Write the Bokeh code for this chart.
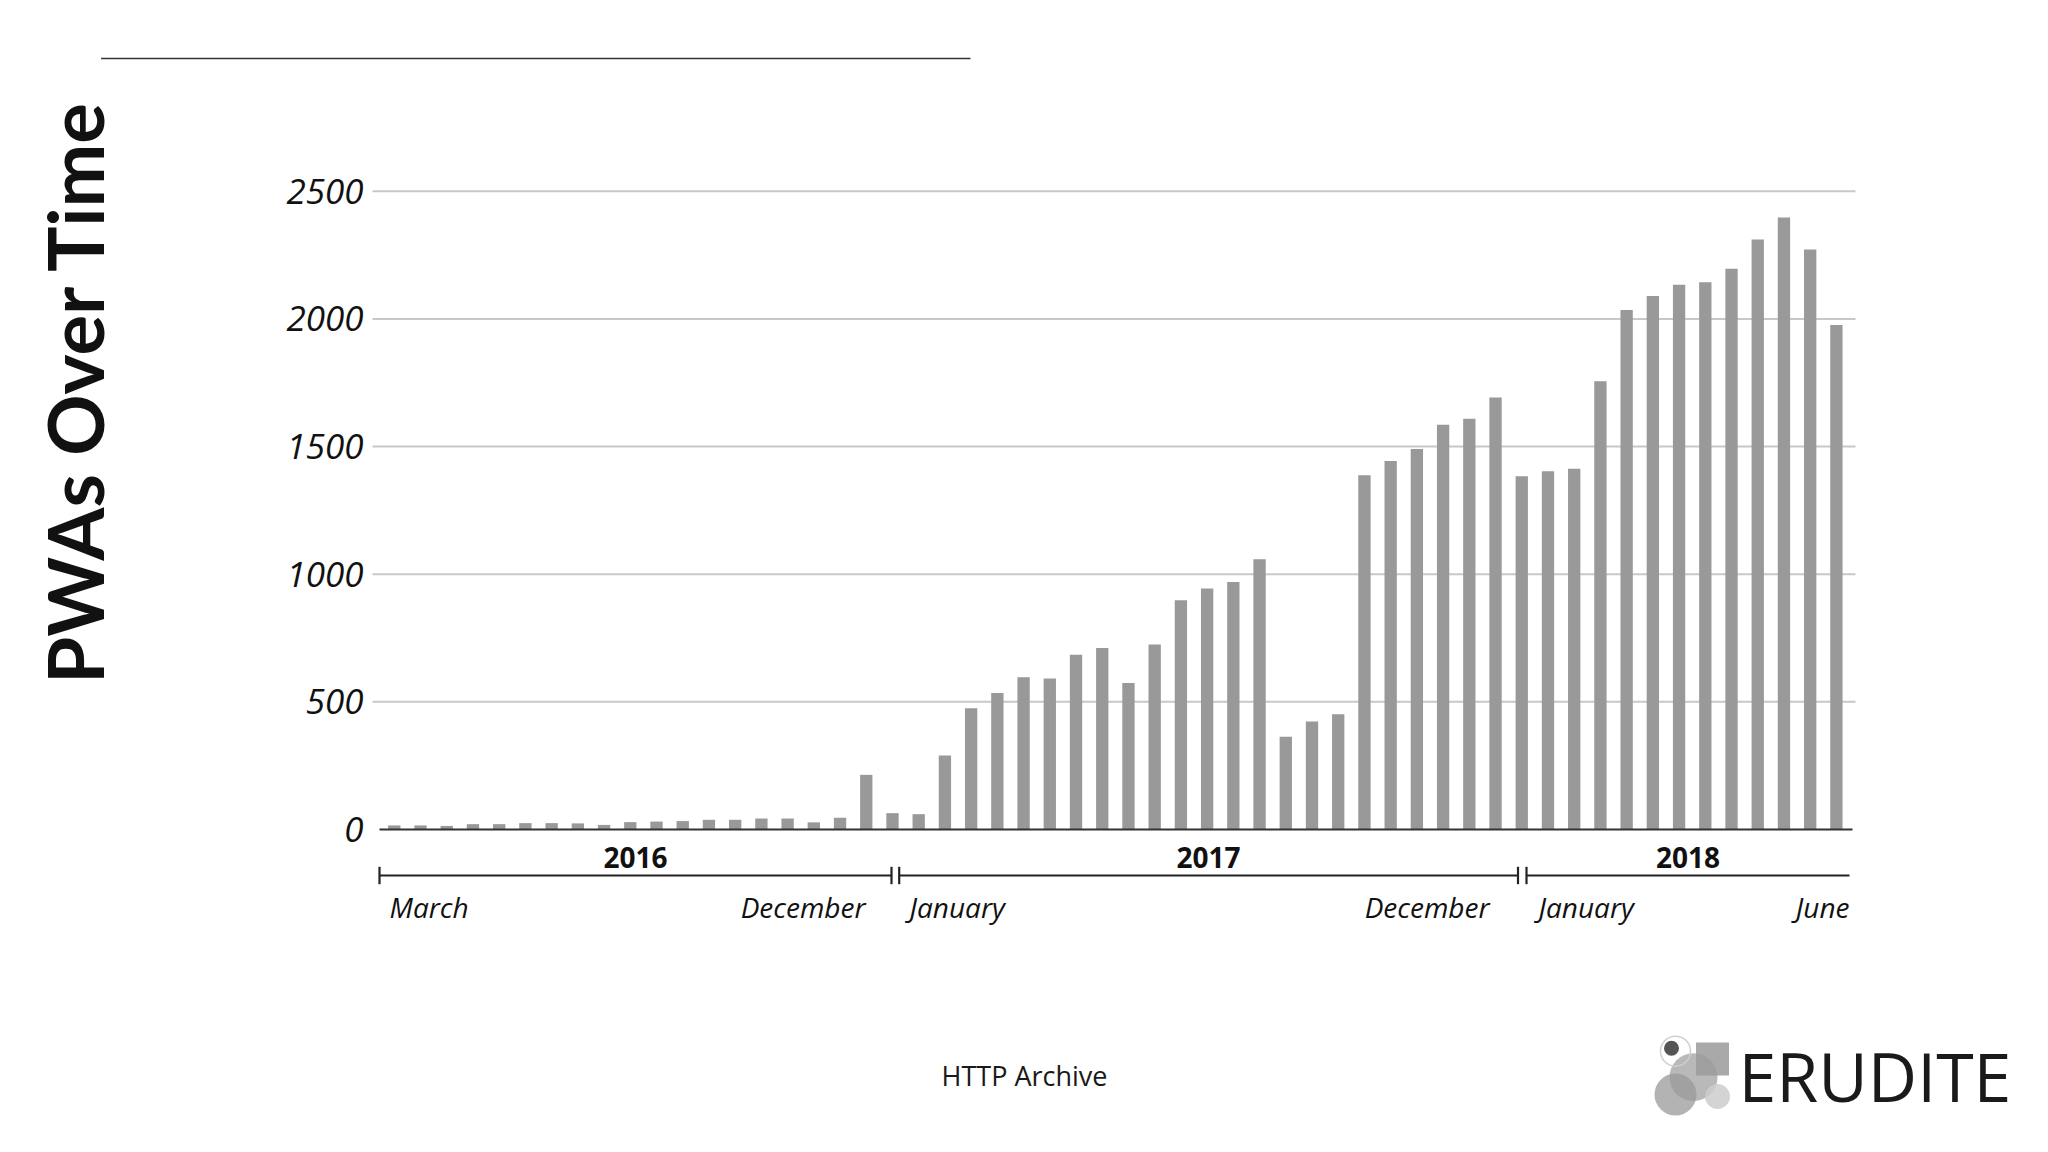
import numpy as np
from bokeh.plotting import figure
from bokeh.models import LinearAxis, FixedTicker, Range1d, ColumnDataSource
from bokeh.core.properties import value
from bokeh.embed import file_html
from bokeh.resources import INLINE

# ---------------- data (HTTP Archive, two crawls per month) ----------------
months_2016 = ["Mar", "Apr", "May", "Jun", "Jul", "Aug", "Sep", "Oct", "Nov", "Dec"]
months_2017 = ["Jan", "Feb", "Mar", "Apr", "May", "Jun", "Jul", "Aug", "Sep", "Oct", "Nov", "Dec"]
months_2018 = ["Jan", "Feb", "Mar", "Apr", "May", "Jun"]

pwas_2016 = [16, 16, 14, 21, 21, 25, 25, 24, 18, 29, 31, 33, 38, 38, 43, 43, 28, 46, 214, 64]
pwas_2017 = [60, 290, 475, 535, 596, 591, 684, 711, 574, 725, 898, 944, 969, 1059,
             363, 423, 451, 1388, 1443, 1490, 1585, 1609, 1692, 1384]
pwas_2018 = [1403, 1413, 1756, 2035, 2090, 2134, 2144, 2196, 2311, 2397, 2272, 1976]

y_ticks = [0, 500, 1000, 1500, 2000, 2500]
year_labels = ["2016", "2017", "2018"]
month_marks = ["March", "December", "January", "December", "January", "June"]

title_text = "PWAs Over Time"
source_text = "HTTP Archive"
brand_text = "ERUDITE"

# ---------------- build series ----------------
periods = ([f"{m} 2016 #{k}" for m in months_2016 for k in (1, 2)] +
           [f"{m} 2017 #{k}" for m in months_2017 for k in (1, 2)] +
           [f"{m} 2018 #{k}" for m in months_2018 for k in (1, 2)])
counts = pwas_2016 + pwas_2017 + pwas_2018
idx = list(range(len(counts)))

# ---------------- layout helpers (canvas pixels -> data units) ----------------
W, H = 2032, 1136
BAR0_PX, STEP_PX = 393.8, 26.22
ZERO_PY, PX_PER_UNIT = 829.0, 0.2553


def X(px):
    return (px - BAR0_PX) / STEP_PX


def Y(py):
    return (ZERO_PY - py) / PX_PER_UNIT


p = figure(width=W, height=H, output_backend="svg", toolbar_location=None,
           x_axis_type=None, y_axis_type=None,
           x_range=Range1d(X(0), X(W)), y_range=Range1d(Y(H), Y(0)),
           min_border_left=0, min_border_right=0, min_border_top=0, min_border_bottom=0)
p.outline_line_color = None
p.background_fill_color = "white"
p.border_fill_color = "white"

# y axis (real axis, drawn at a fixed location)
yaxis = LinearAxis(ticker=FixedTicker(ticks=y_ticks), fixed_location=X(379))
yaxis.axis_line_color = None
yaxis.major_tick_line_color = None
yaxis.minor_tick_line_color = None
yaxis.major_tick_out = 0
yaxis.major_tick_in = 0
yaxis.major_label_standoff = 16
yaxis.major_label_text_font = "Open Sans"
yaxis.major_label_text_font_style = "italic"
yaxis.major_label_text_font_size = "35px"
yaxis.major_label_text_color = "#111111"
p.add_layout(yaxis, "left")

# gridlines
grid_y = y_ticks[1:]
p.segment(x0=[X(372)] * len(grid_y), x1=[X(1855)] * len(grid_y), y0=grid_y, y1=grid_y,
          line_color="#c8c8c8", line_width=2)

# bars
src = ColumnDataSource(dict(x=idx, top=counts, period=periods))
p.vbar(x="x", top="top", bottom=0, width=0.47, source=src,
       fill_color="#999999", line_color=None)

# baseline
p.segment(x0=[X(379)], x1=[X(1852)], y0=[0], y1=[0], line_color="#333333", line_width=2.2)

# year brackets
seg_start = [X(379), X(898.7), X(1526)]
seg_end = [X(891), X(1517.5), X(1849)]
yb = Y(875)
p.segment(x0=seg_start, x1=seg_end, y0=[yb] * 3, y1=[yb] * 3, line_color="#222222", line_width=2.2)
tick_x = [X(379), X(891), X(898.7), X(1517.5), X(1526)]
half = 8.7 / PX_PER_UNIT
p.segment(x0=tick_x, x1=tick_x, y0=[yb - half] * len(tick_x), y1=[yb + half] * len(tick_x),
          line_color="#222222", line_width=2.2)

p.text(x=[(a + b) / 2 for a, b in zip(seg_start, seg_end)], y=[Y(857)] * 3, text=year_labels,
       text_font=value("Open Sans"), text_font_style="bold", text_font_size="28px",
       text_align="center", text_baseline="alphabetic", text_color="#111111")

# month markers
mx = [X(389), X(865), X(909), X(1489), X(1538), X(1849)]
malign = ["left", "right", "left", "right", "left", "right"]
p.text(x=mx, y=[Y(906)] * 6, text=month_marks, text_align=malign,
       text_font=value("Open Sans"), text_font_style="italic", text_font_size="28px",
       text_baseline="alphabetic", text_color="#111111")

# title (rotated) and top rule
p.text(x=[X(74)], y=[Y(391)], text=[title_text], angle=np.pi / 2,
       text_font=value("Lato"), text_font_style="bold", text_font_size="76px",
       text_align="center", text_baseline="alphabetic", text_color="#111111")
p.segment(x0=[X(100.6)], x1=[X(970)], y0=[Y(58)], y1=[Y(58)], line_color="#333333", line_width=1.5)

# source
p.text(x=[X(1024)], y=[Y(1075)], text=[source_text], text_align="center",
       text_font=value("Open Sans"), text_font_size="27px", text_baseline="alphabetic",
       text_color="#1a1a1a")

# brand logo
p.scatter(x=[X(1693)], y=[Y(1076.7)], size=48, marker="circle", fill_color="#8a8a8a",
          fill_alpha=0.6, line_color=None)
p.scatter(x=[X(1675)], y=[Y(1094)], size=42, marker="circle", fill_color="#9a9a9a",
          fill_alpha=0.75, line_color=None)
p.scatter(x=[X(1717)], y=[Y(1096)], size=25, marker="circle", fill_color="#cccccc",
          fill_alpha=0.85, line_color=None)
p.scatter(x=[X(1712)], y=[Y(1058.5)], size=33, marker="square", fill_color="#9a9a9a",
          fill_alpha=0.85, line_color=None)
p.scatter(x=[X(1675)], y=[Y(1050.7)], size=30, marker="circle", fill_color=None,
          line_color="#cfcfcf", line_width=1.5)
p.scatter(x=[X(1671)], y=[Y(1047.7)], size=15, marker="circle", fill_color="#555555",
          line_color=None)
p.text(x=[X(1738)], y=[Y(1075)], text=[brand_text], text_align="left",
       text_font=value("Open Sans"), text_font_size="68px", text_baseline="alphabetic",
       text_color="#1a1a1a")

open("out.html", "w").write(file_html(p, INLINE))
